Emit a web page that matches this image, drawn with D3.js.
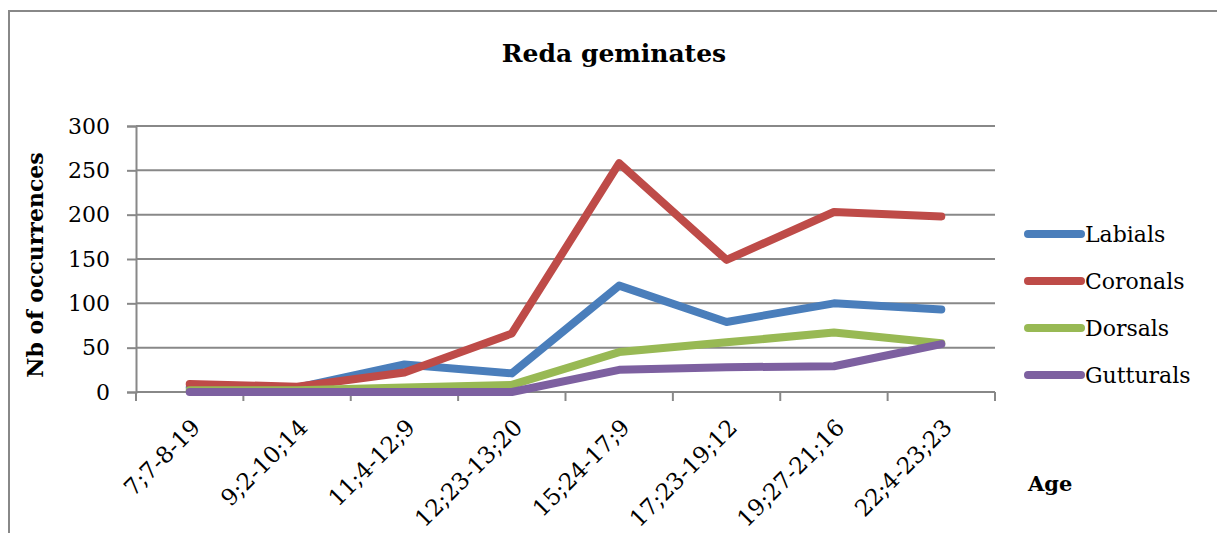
<!DOCTYPE html>
<meta charset="utf-8">
<head>
<title>Reda geminates</title>
<script src="https://d3js.org/d3.v7.min.js"></script>
<style>
  body { margin: 0; background: #fff; }
  svg text { font-family: "DejaVu Serif", serif; fill: #000; }
</style>
</head>
<body>
<div id="chart"></div>
<script>
// data
var ages = ["7;7-8-19", "9;2-10;14", "11;4-12;9", "12;23-13;20", "15;24-17;9", "17;23-19;12", "19;27-21;16", "22;4-23;23"];
var labials   = [5, 5, 31, 21, 120, 79, 100, 93];
var coronals  = [9, 6, 22, 66, 258, 149, 203, 198];
var dorsals   = [2, 2, 5, 8, 45, 56, 67, 55];
var gutturals = [0, 0, 0, 0, 25, 28, 29, 54];
var seriesNames = ["Labials", "Coronals", "Dorsals", "Gutturals"];
var yTicks = [0, 50, 100, 150, 200, 250, 300];

var colors = ["#4a7ebb", "#be4b48", "#98b954", "#7d60a0"];
var series = [labials, coronals, dorsals, gutturals].map(function(v, i) {
  return {name: seriesNames[i], values: v, color: colors[i]};
});

var W = 1217, H = 533;
var margin = {top: 126, left: 136, right: 222, bottom: 141};
var width = W - margin.left - margin.right,
    height = H - margin.top - margin.bottom;

var svg = d3.select("#chart").append("svg")
  .attr("width", W).attr("height", H);

// chart border
svg.append("path")
  .attr("d", "M9," + H + "V11H" + W)
  .attr("fill", "none")
  .attr("stroke", "#888")
  .attr("stroke-width", 2);

svg.append("text")
  .attr("x", 614).attr("y", 62)
  .attr("text-anchor", "middle")
  .style("font-size", "25px").style("font-weight", "bold")
  .text("Reda geminates");

var g = svg.append("g")
  .attr("transform", "translate(" + margin.left + "," + margin.top + ")");

var x = d3.scaleBand().domain(ages).range([0, width]);
var y = d3.scaleLinear().domain([0, 300]).range([height, 0]);

// gridlines
g.selectAll(".grid")
  .data(yTicks.filter(function(d) { return d > 0; }))
  .enter().append("line")
  .attr("x1", 0).attr("x2", width)
  .attr("y1", function(d) { return y(d); })
  .attr("y2", function(d) { return y(d); })
  .attr("stroke", "#888").attr("stroke-width", 2);

// y axis
var yAxis = g.append("g")
  .call(d3.axisLeft(y).tickValues(yTicks).tickSize(9).tickPadding(17));
yAxis.select(".domain").attr("stroke", "#888").attr("stroke-width", 2);
yAxis.selectAll(".tick line").attr("stroke", "#888").attr("stroke-width", 2);
yAxis.selectAll("text")
  .style("font-family", "DejaVu Serif").style("font-size", "22px");

// x axis with ticks at band edges
var xAxis = g.append("g")
  .attr("transform", "translate(0," + height + ")");
xAxis.append("line")
  .attr("x1", 0).attr("x2", width)
  .attr("stroke", "#888").attr("stroke-width", 2);
var edges = ages.map(function(a) { return x(a); }).concat([width]);
xAxis.selectAll(".xt")
  .data(edges)
  .enter().append("line")
  .attr("x1", function(d) { return d; }).attr("x2", function(d) { return d; })
  .attr("y1", 0).attr("y2", 9)
  .attr("stroke", "#888").attr("stroke-width", 2);
xAxis.selectAll(".xl")
  .data(ages)
  .enter().append("text")
  .attr("transform", function(d) {
    return "translate(" + (x(d) + x.bandwidth() / 2 + 12) + ",37) rotate(-45)";
  })
  .attr("text-anchor", "end")
  .style("font-size", "23px")
  .text(function(d) { return d; });

// lines
var line = d3.line()
  .x(function(d, i) { return x(ages[i]) + x.bandwidth() / 2; })
  .y(function(d) { return y(d); });

g.selectAll(".series")
  .data(series)
  .enter().append("path")
  .attr("d", function(d) { return line(d.values); })
  .attr("fill", "none")
  .attr("stroke", function(d) { return d.color; })
  .attr("stroke-width", 8)
  .attr("stroke-linecap", "round")
  .attr("stroke-linejoin", "round");

// axis titles
svg.append("text")
  .attr("transform", "translate(43,265) rotate(-90)")
  .attr("text-anchor", "middle")
  .style("font-size", "22px").style("font-weight", "bold")
  .text("Nb of occurrences");

svg.append("text")
  .attr("x", 1028).attr("y", 491)
  .style("font-size", "21px").style("font-weight", "bold")
  .text("Age");

// legend
var legend = svg.append("g").attr("transform", "translate(1028,234)");
var item = legend.selectAll(".item")
  .data(series)
  .enter().append("g")
  .attr("transform", function(d, i) { return "translate(0," + (i * 47) + ")"; });
item.append("line")
  .attr("x1", 0).attr("x2", 53)
  .attr("stroke", function(d) { return d.color; })
  .attr("stroke-width", 8)
  .attr("stroke-linecap", "round");
item.append("text")
  .attr("x", 57).attr("y", 8)
  .style("font-size", "22px")
  .text(function(d) { return d.name; });
</script>
</body>
</html>
